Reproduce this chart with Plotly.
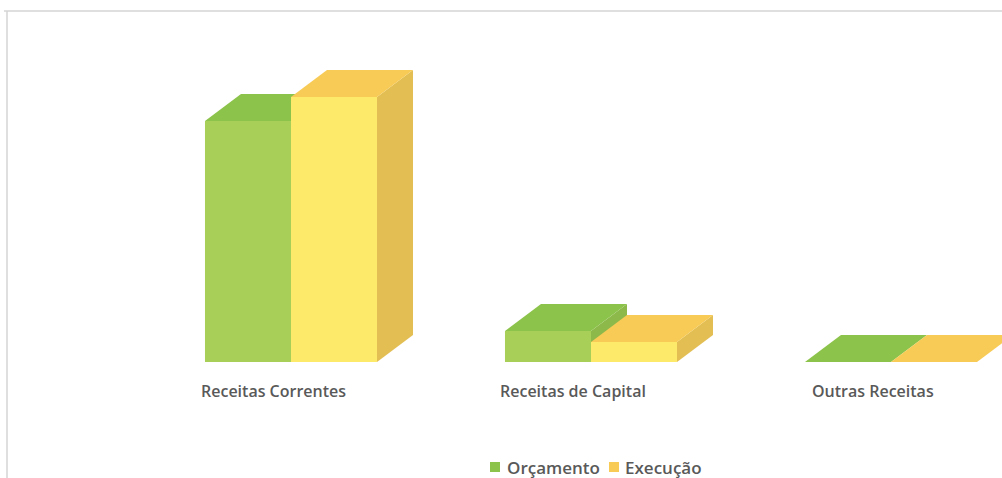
import plotly.graph_objects as go

# ---- data ----
categories = ["Receitas Correntes", "Receitas de Capital", "Outras Receitas"]
series_names = ["Orçamento", "Execução"]
orcamento = [24.1, 3.1, 0.0]   # millions (estimated)
execucao = [26.5, 2.0, 0.0]

# ---- styling constants ----
W, H = 1002, 478
M_T, M_B = 11, 116
PLOT_H = H - M_T - M_B
BAR_W = 0.2867        # bar width in x units
DX = 0.12             # depth offset in x units
DY = 2.7              # depth offset in y units
colors = {
    "Orçamento": {"front": "#A8CF58", "top": "#8CC34A", "side": "#8DB84A", "legend": "#8CC34A"},
    "Execução": {"front": "#FDE96A", "top": "#F8CB56", "side": "#E2BE53", "legend": "#F8CB56"},
}
TEXT = "#595959"
FONT = "Open Sans"

fig = go.Figure()

def poly(xs, ys, color, name):
    fig.add_trace(go.Scatter(
        x=xs + [xs[0]], y=ys + [ys[0]], mode="lines", fill="toself",
        fillcolor=color, line=dict(width=0, color=color), name=name,
        hoverinfo="skip", showlegend=False))

for i, cat in enumerate(categories):
    for s, (name, vals) in enumerate(zip(series_names, [orcamento, execucao])):
        v = vals[i]
        x0 = i - BAR_W + s * BAR_W
        x1 = x0 + BAR_W
        c = colors[name]
        if v > 0:
            poly([x0, x1, x1, x0], [0, 0, v, v], c["front"], name)                      # front
            poly([x1, x1 + DX, x1 + DX, x1], [0, DY, v + DY, v], c["side"], name)       # side
        poly([x0, x1, x1 + DX, x0 + DX], [v, v, v + DY, v + DY], c["top"], name)        # top

# category labels
for i, cat in enumerate(categories):
    fig.add_annotation(
        x=i - 0.06, xref="x", y=0, yref="paper", yshift=-29,
        text=cat, showarrow=False, xanchor="center", yanchor="middle",
        font=dict(family=FONT, size=16, color=TEXT, weight=600))

# legend (squares + text), positioned in pixels of the page
def px_x(px):
    return px / W

def px_y(py):
    return (H - M_B - py) / PLOT_H

legend_items = [(series_names[0], 490, 505), (series_names[1], 609, 623)]
LEG_Y = 467
for name, sq_x, tx_x in legend_items:
    fig.add_shape(type="rect", xref="paper", yref="paper",
                  x0=px_x(sq_x), x1=px_x(sq_x + 10), y0=px_y(LEG_Y + 5), y1=px_y(LEG_Y - 5),
                  fillcolor=colors[name]["legend"], line=dict(width=0))
    fig.add_annotation(
        x=px_x(tx_x), xref="paper", y=px_y(LEG_Y), yref="paper",
        text=name, showarrow=False, xanchor="left", yanchor="middle",
        font=dict(family=FONT, size=17, color=TEXT, weight=600))

# border lines
fig.add_shape(type="line", xref="paper", yref="paper",
              x0=px_x(4), x1=1.0, y0=1.0, y1=1.0,
              line=dict(color="#D4D4D4", width=1.5))
fig.add_shape(type="line", xref="paper", yref="paper",
              x0=px_x(7), x1=px_x(7), y0=1.0, y1=px_y(H),
              line=dict(color="#D4D4D4", width=1.5))

fig.update_layout(
    width=W, height=H,
    margin=dict(l=0, r=0, t=M_T, b=M_B, autoexpand=False),
    paper_bgcolor="white", plot_bgcolor="rgba(0,0,0,0)",
    xaxis=dict(range=[-0.97, 2.37], visible=False, fixedrange=True),
    yaxis=dict(range=[0, 35.1], visible=False, fixedrange=True),
    showlegend=False,
)

fig.write_html("out.html", config={"displayModeBar": False},
               post_script="document.body.style.margin='0';document.body.style.overflow='hidden';")
